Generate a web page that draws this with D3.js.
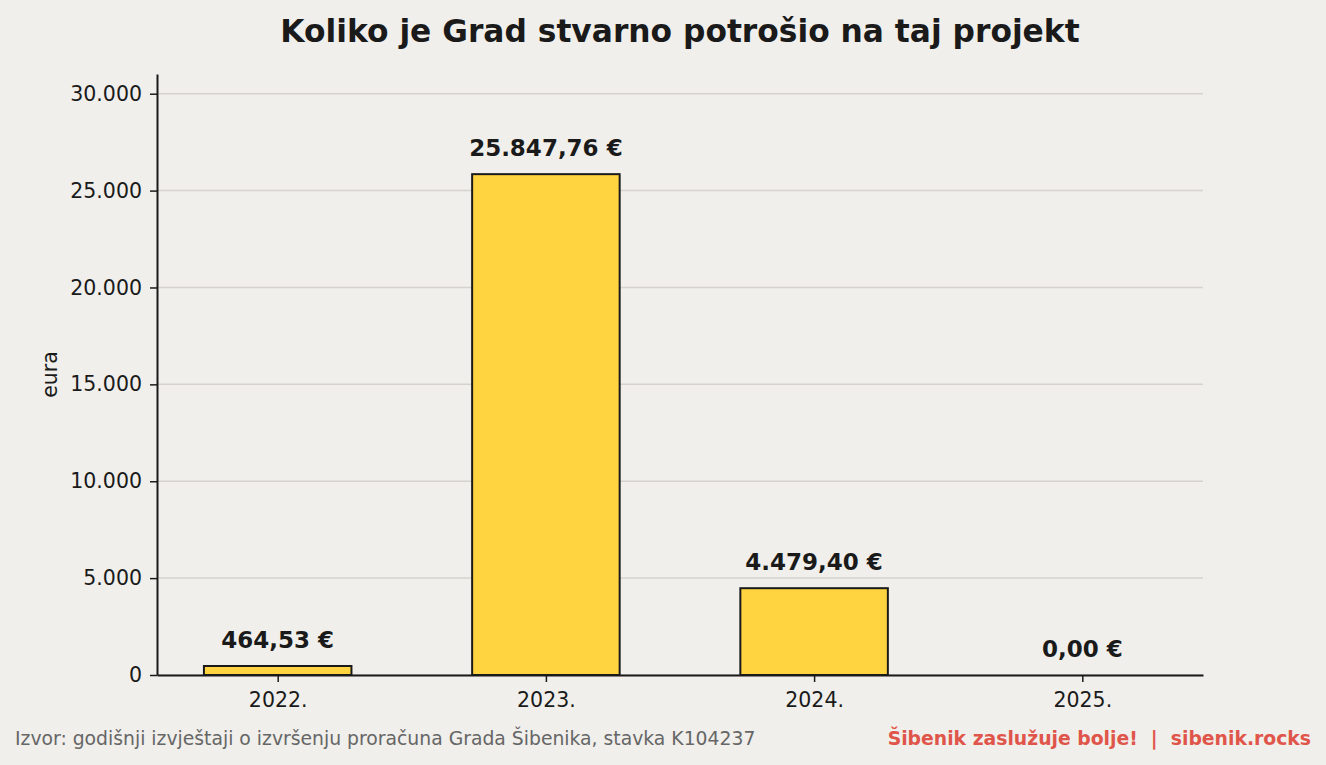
<!DOCTYPE html>
<html>
<head>
<meta charset="utf-8">
<script src="https://cdn.jsdelivr.net/npm/d3@7"></script>
<style>
  body { margin: 0; background: #f0efeb; }
  svg { display: block; font-family: "DejaVu Sans", sans-serif; }
</style>
</head>
<body>
<div id="chart"></div>
<script>
// Data
const years = ["2022.", "2023.", "2024.", "2025."];
const spent = [464.53, 25847.76, 4479.40, 0.00];
const yTicks = [0, 5000, 10000, 15000, 20000, 25000, 30000];

const width = 1326, height = 765;
const margin = {top: 74, right: 123, bottom: 90, left: 157};

const svg = d3.select("#chart").append("svg")
    .attr("width", width)
    .attr("height", height);

svg.append("rect")
    .attr("width", width).attr("height", height)
    .attr("fill", "#f0efeb");

// number formatting (hr locale)
const hr = d3.formatLocale({decimal: ",", thousands: ".", grouping: [3], currency: ["", " €"]});
const fmtTick = hr.format(",.0f");
const fmtVal = hr.format(",.2f");

// scales
let x = d3.scaleLinear()
    .domain([-0.45, years.length - 1 + 0.45])
    .range([margin.left, width - margin.right]);

let y = d3.scaleLinear()
    .domain([0, d3.max(spent) * 1.2])
    .range([height - margin.bottom, margin.top]);

const barW = (x(1) - x(0)) * 0.55;

// gridlines
svg.append("g")
    .selectAll("line")
    .data(yTicks)
    .enter().append("line")
    .attr("x1", x.range()[0]).attr("x2", x.range()[1])
    .attr("y1", d => y(d)).attr("y2", d => y(d))
    .attr("stroke", "#d6d3ce")
    .attr("stroke-width", 1.5);

// bars
svg.append("g")
    .selectAll("rect")
    .data(spent)
    .enter().append("rect")
    .attr("x", (d, i) => x(i) - barW / 2)
    .attr("y", d => y(d))
    .attr("width", barW)
    .attr("height", d => y(0) - y(d))
    .attr("fill", "#ffd440")
    .attr("stroke", "#1a1a1a")
    .attr("stroke-width", 2);

// value labels
svg.append("g")
    .selectAll("text")
    .data(spent)
    .enter().append("text")
    .attr("x", (d, i) => x(i))
    .attr("y", d => y(d) - 18)
    .attr("text-anchor", "middle")
    .attr("font-size", 23)
    .attr("font-weight", "bold")
    .attr("fill", "#1a1a1a")
    .text(d => fmtVal(d) + " €");

// y axis
let yAxis = d3.axisLeft(y)
    .tickValues(yTicks)
    .tickFormat(fmtTick)
    .tickSizeInner(7)
    .tickSizeOuter(0)
    .tickPadding(8);

let gy = svg.append("g")
    .attr("class", "y-axis axis")
    .attr("transform", `translate(${margin.left},0)`)
    .call(yAxis);

// x axis
let xAxis = d3.axisBottom(x)
    .tickValues(d3.range(years.length))
    .tickFormat(i => years[i])
    .tickSizeInner(7)
    .tickSizeOuter(0)
    .tickPadding(10);

let gx = svg.append("g")
    .attr("class", "x-axis axis")
    .attr("transform", `translate(0,${height - margin.bottom})`)
    .call(xAxis);

[gx, gy].forEach(g => {
    g.select(".domain").attr("stroke", "#1a1a1a").attr("stroke-width", 2);
    g.selectAll(".tick line").attr("stroke", "#1a1a1a").attr("stroke-width", 1.5);
    g.selectAll(".tick text")
        .attr("font-family", "DejaVu Sans, sans-serif")
        .attr("font-size", 20.5)
        .attr("fill", "#1a1a1a");
});

// y label
svg.append("text")
    .attr("transform", `translate(57,${(y.range()[0] + y.range()[1]) / 2}) rotate(-90)`)
    .attr("text-anchor", "middle")
    .attr("font-size", 20.5)
    .attr("fill", "#1a1a1a")
    .text("eura");

// title
svg.append("text")
    .attr("x", 680)
    .attr("y", 42)
    .attr("text-anchor", "middle")
    .attr("font-size", 31.3)
    .attr("font-weight", "bold")
    .attr("fill", "#1a1a1a")
    .text("Koliko je Grad stvarno potrošio na taj projekt");

// footer
svg.append("text")
    .attr("x", 15)
    .attr("y", 745)
    .attr("font-size", 18.8)
    .attr("fill", "#666666")
    .text("Izvor: godišnji izvještaji o izvršenju proračuna Grada Šibenika, stavka K104237");

svg.append("text")
    .attr("x", 1311)
    .attr("y", 745)
    .attr("text-anchor", "end")
    .attr("font-size", 18.8)
    .attr("font-weight", "bold")
    .attr("fill", "#e0554a")
    .style("white-space", "pre")
    .text("Šibenik zaslužuje bolje!  |  sibenik.rocks");
</script>
</body>
</html>
